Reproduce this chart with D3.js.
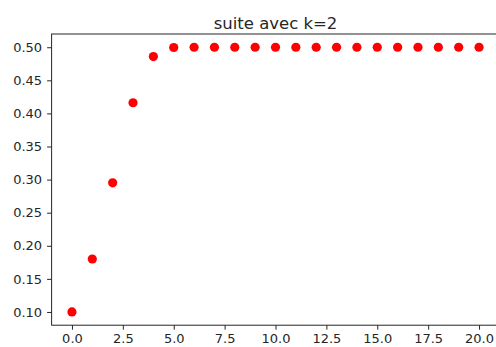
<!DOCTYPE html>
<html>
<head>
<meta charset="utf-8">
<script src="https://cdn.jsdelivr.net/npm/d3@7"></script>
<style>
  html, body { margin: 0; padding: 0; background: #fff; }
  svg { display: block; }
  text { font-family: "DejaVu Sans", sans-serif; fill: #262626; }
</style>
</head>
<body>
<script>
// Suite u(n) pour k = 2, n = 0 .. 20
const indices = d3.range(0, 21);
const values = [0.1, 0.18, 0.2952, 0.4161, 0.4859, 0.4996, 0.5, 0.5, 0.5, 0.5,
                0.5, 0.5, 0.5, 0.5, 0.5, 0.5, 0.5, 0.5, 0.5, 0.5, 0.5];
const xTicks = [0, 2.5, 5, 7.5, 10, 12.5, 15, 17.5, 20];
const yTicks = [0.10, 0.15, 0.20, 0.25, 0.30, 0.35, 0.40, 0.45, 0.50];
const title = "suite avec k=2";

const W = 496, H = 347;
const plot = { left: 51.6, right: 499.4, top: 34, bottom: 325.2 };

const svg = d3.select("body").append("svg").attr("width", W).attr("height", H);

const x = d3.scaleLinear().domain([-1, 21]).range([plot.left, plot.right]);
const y = d3.scaleLinear().domain([0.08, 0.52]).range([plot.bottom, plot.top]);

// points
svg.append("g").selectAll("circle")
  .data(indices)
  .join("circle")
  .attr("cx", i => x(i))
  .attr("cy", i => y(values[i]))
  .attr("r", 4.6)
  .attr("fill", "red");

// frame
svg.append("rect")
  .attr("x", plot.left).attr("y", plot.top)
  .attr("width", plot.right - plot.left).attr("height", plot.bottom - plot.top)
  .attr("fill", "none").attr("stroke", "#262626").attr("stroke-width", 1);

const xAxis = svg.append("g")
  .attr("transform", `translate(0,${plot.bottom})`)
  .call(d3.axisBottom(x).tickValues(xTicks).tickFormat(d3.format(".1f")).tickSizeOuter(0).tickSize(4.5).tickPadding(4));
const yAxis = svg.append("g")
  .attr("transform", `translate(${plot.left},0)`)
  .call(d3.axisLeft(y).tickValues(yTicks).tickFormat(d3.format(".2f")).tickSizeOuter(0).tickSize(4.5).tickPadding(5));

[xAxis, yAxis].forEach(g => {
  g.select(".domain").remove();
  g.selectAll(".tick line").attr("stroke", "#262626").attr("stroke-width", 1);
  g.selectAll(".tick text").attr("font-size", 13).attr("font-family", "DejaVu Sans").attr("fill", "#262626");
});

svg.append("text")
  .attr("x", (plot.left + plot.right) / 2)
  .attr("y", 29)
  .attr("text-anchor", "middle")
  .attr("font-size", 16.5)
  .text(title);
</script>
</body>
</html>
